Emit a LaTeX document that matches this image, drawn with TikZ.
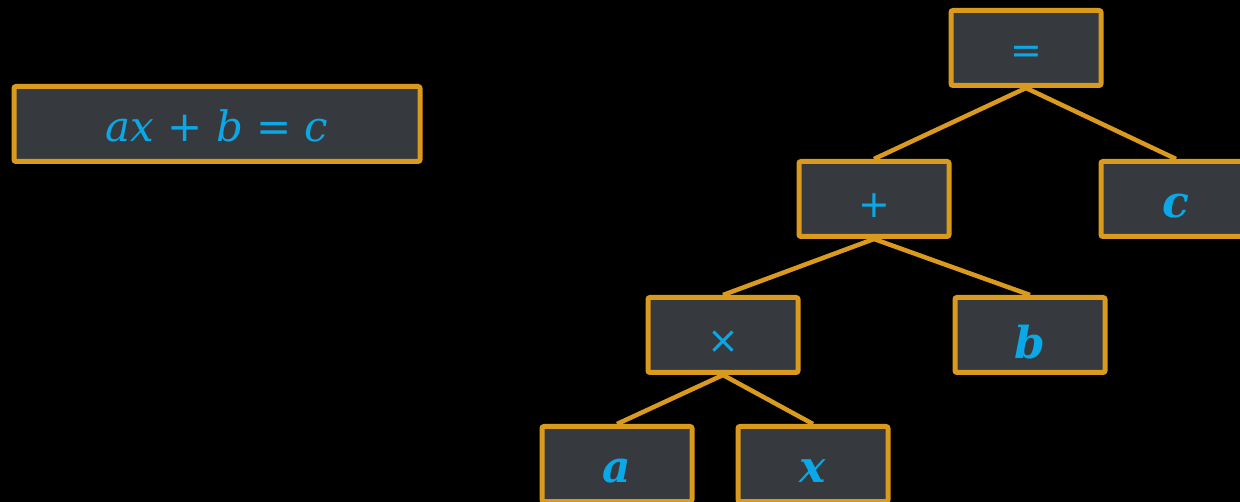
\documentclass[tikz,border=0pt]{standalone}
\usepackage{fontspec}
\usetikzlibrary{backgrounds}
\setmainfont{DejaVu Serif}
\newfontfamily\opfont{DejaVu Sans}
\definecolor{bgdark}{HTML}{000000}
\definecolor{boxfill}{HTML}{36393E}
\definecolor{boxedge}{HTML}{DA9A1E}
\definecolor{glyph}{HTML}{0AA8E6}
% lower a label inside its box without changing the box's idea of its size
\newcommand{\lowered}[2][7pt]{\raisebox{-#1}[\height][\depth]{#2}}
\tikzset{
  exprbox/.style={draw=boxedge, fill=boxfill, line width=5pt, rounded corners=2pt,
    minimum width=150pt, minimum height=75pt, inner sep=0pt, text=glyph},
  opnode/.style={exprbox, font=\opfont\fontsize{38}{38}\selectfont},
  leafnode/.style={exprbox, font=\bfseries\itshape\fontsize{44}{44}\selectfont},
  edge/.style={draw=boxedge, line width=4.5pt}
}
\begin{document}
\begin{tikzpicture}[x=1pt, y=-1pt]
  \useasboundingbox (0,0) rectangle (1240,502);
  % the equation written out
  \node[exprbox, minimum width=406pt, font=\fontsize{42}{42}\selectfont] (eq) at (217,124)
    {\lowered[2pt]{\itshape ax\/ \upshape\opfont+ \itshape\rmfamily b \upshape\opfont= \rmfamily\itshape c}};
  % its expression tree
  \node[opnode] (eqop) at (1026,48) {\lowered{=}};
  \node[opnode] (plus) at (874,199) {\lowered{+}};
  \node[leafnode] (c) at (1176,199) {\lowered{c}};
  \node[opnode] (times) at (723,335) {\lowered{×}};
  \node[leafnode] (b) at (1030,335) {\lowered{b}};
  \node[leafnode] (a) at (617,464) {\lowered{a}};
  \node[leafnode] (x) at (813,464) {\lowered{x}};
  \begin{scope}[on background layer]
    \fill[bgdark] (0,0) rectangle (1240,502);
    \draw[edge] (eqop.south) -- (plus.north);
    \draw[edge] (eqop.south) -- (c.north);
    \draw[edge] (plus.south) -- (times.north);
    \draw[edge] (plus.south) -- (b.north);
    \draw[edge] (times.south) -- (a.north);
    \draw[edge] (times.south) -- (x.north);
  \end{scope}
\end{tikzpicture}
\end{document}
